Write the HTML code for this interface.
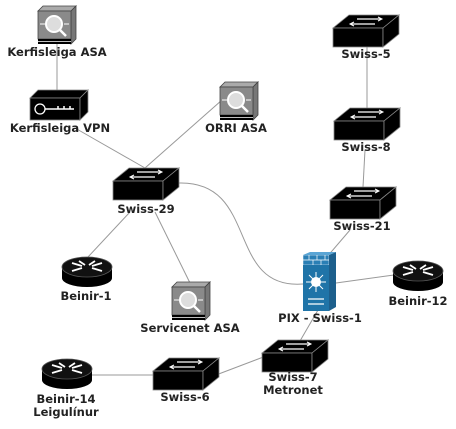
<!DOCTYPE html>
<html><head><meta charset="utf-8"><style>
body{margin:0;background:#fff;}
svg text{font-family:"DejaVu Sans","Liberation Sans",sans-serif;font-size:11.5px;font-weight:bold;fill:#222;text-anchor:middle;}
</style></head><body>
<svg width="456" height="424" viewBox="0 0 456 424" xmlns="http://www.w3.org/2000/svg">
<defs>
<g id="sw">
<polygon points="0,13 50,13 66,0 16,0" fill="#000" stroke="#888" stroke-width="0.8"/>
<rect x="0" y="13" width="50" height="19" fill="#000" stroke="#888" stroke-width="0.8"/>
<polygon points="50,13 66,0 66,19 50,32" fill="#000" stroke="#888" stroke-width="0.8"/>
<path d="M24,4 L48,4 M18,9 L42,9" stroke="#fff" stroke-width="1.3"/>
<path d="M45,2 L49,4 L45,6 M21,7 L17,9 L21,11" stroke="#fff" stroke-width="1" fill="none"/>
</g>
<g id="rt">
<path d="M0,11 L0,22 A25,9 0 0 0 50,22 L50,11 Z" fill="#000"/>
<ellipse cx="25" cy="11" rx="25" ry="10" fill="#111" stroke="#555" stroke-width="0.8"/>
<path d="M10,7 L20,10 M40,7 L30,10 M10,15 L20,12 M40,15 L30,12 M17,5 L23,9 M33,5 L27,9" stroke="#fff" stroke-width="1.8"/>
</g>
<g id="asa">
<polygon points="0,5 5,0 38,0 33,5" fill="#aaa" stroke="#444" stroke-width="0.8"/>
<polygon points="33,5 38,0 38,33 33,38" fill="#777" stroke="#444" stroke-width="0.8"/>
<rect x="0" y="5" width="33" height="28" fill="#8a8a8a" stroke="#444" stroke-width="0.8"/>
<circle cx="16" cy="18" r="8" fill="#ddd" stroke="#fff" stroke-width="2"/>
<path d="M22,24 L28,30" stroke="#fff" stroke-width="2.5"/>
<path d="M2,18 L7,18 M26,18 L31,18" stroke="#fff" stroke-width="1"/>
<rect x="0" y="33" width="33" height="5" fill="#000"/>
<path d="M0,35.5 L33,35.5" stroke="#fff" stroke-width="0.7"/>
</g>
</defs>
<g stroke="#999" stroke-width="1" fill="none">
<line x1="57" y1="44" x2="57" y2="90"/>
<line x1="75" y1="128" x2="145" y2="168"/>
<line x1="222" y1="100" x2="145" y2="168"/>
<path d="M178,183 C260,180 225,290 303,284"/>
<line x1="130" y1="212" x2="88" y2="257"/>
<line x1="155" y1="212" x2="190" y2="283"/>
<line x1="367" y1="46" x2="367" y2="108"/>
<line x1="365" y1="150" x2="363" y2="187"/>
<line x1="350" y1="230" x2="326" y2="258"/>
<line x1="336" y1="283" x2="394" y2="275"/>
<line x1="318" y1="310" x2="300" y2="341"/>
<line x1="266" y1="356" x2="216" y2="375"/>
<line x1="153" y1="375" x2="92" y2="375"/>
</g>
<use href="#asa" x="38" y="6"/>
<text x="57" y="56">Kerfisleiga ASA</text>
<g transform="translate(30,90)">
<polygon points="0,8 8,0 58,0 50,8" fill="#000" stroke="#888" stroke-width="0.8"/>
<rect x="0" y="8" width="50" height="22" fill="#000" stroke="#888" stroke-width="0.8"/>
<polygon points="50,8 58,0 58,22 50,30" fill="#000" stroke="#888" stroke-width="0.8"/>
<circle cx="10" cy="19" r="5" fill="none" stroke="#fff" stroke-width="1.3"/>
<path d="M15,19 L44,19 M28,16 L28,19 M34,16 L34,19 M40,16 L40,19" stroke="#fff" stroke-width="1.5"/>
</g>
<text x="60" y="132">Kerfisleiga VPN</text>
<use href="#asa" x="220" y="82"/>
<text x="236" y="132">ORRI ASA</text>
<use href="#sw" x="113" y="168"/>
<text x="146" y="213">Swiss-29</text>
<use href="#rt" x="62" y="256"/>
<text x="86" y="300">Beinir-1</text>
<use href="#asa" x="172" y="282"/>
<text x="190" y="332">Servicenet ASA</text>
<use href="#sw" x="333" y="15"/>
<text x="366" y="58">Swiss-5</text>
<use href="#sw" x="334" y="108"/>
<text x="366" y="151">Swiss-8</text>
<use href="#sw" x="330" y="187"/>
<text x="362" y="230">Swiss-21</text>
<g transform="translate(303,255)">
<rect x="0" y="0" width="26" height="10" fill="#2a7fb5" stroke="#fff" stroke-width="0.5"/>
<path d="M0,5 L26,5 M6,0 L6,5 M14,0 L14,5 M22,0 L22,5 M10,5 L10,10 M18,5 L18,10" stroke="#fff" stroke-width="0.7"/>
<polygon points="26,0 33,-3 33,52 26,56" fill="#1d5f8c"/>
<polygon points="0,0 7,-3 33,-3 26,0" fill="#5aa5d5"/>
<rect x="0" y="10" width="26" height="46" fill="#1f74a8"/>
<circle cx="13" cy="27" r="5" fill="#fff"/>
<path d="M13,17 L13,37 M3,27 L23,27 M6,20 L20,34 M20,20 L6,34" stroke="#fff" stroke-width="1"/>
<path d="M5,44 L21,44 M5,49 L21,49" stroke="#fff" stroke-width="1.2"/>
</g>
<text x="320" y="322">PIX - Swiss-1</text>
<use href="#rt" x="393" y="260"/>
<text x="418" y="305">Beinir-12</text>
<use href="#sw" x="262" y="340"/>
<text x="293" y="381">Swiss-7</text>
<text x="293" y="394">Metronet</text>
<use href="#sw" x="153" y="358"/>
<text x="185" y="401">Swiss-6</text>
<use href="#rt" x="42" y="358"/>
<text x="66" y="403">Beinir-14</text>
<text x="66" y="416">Leigulínur</text>
</svg>
</body></html>
